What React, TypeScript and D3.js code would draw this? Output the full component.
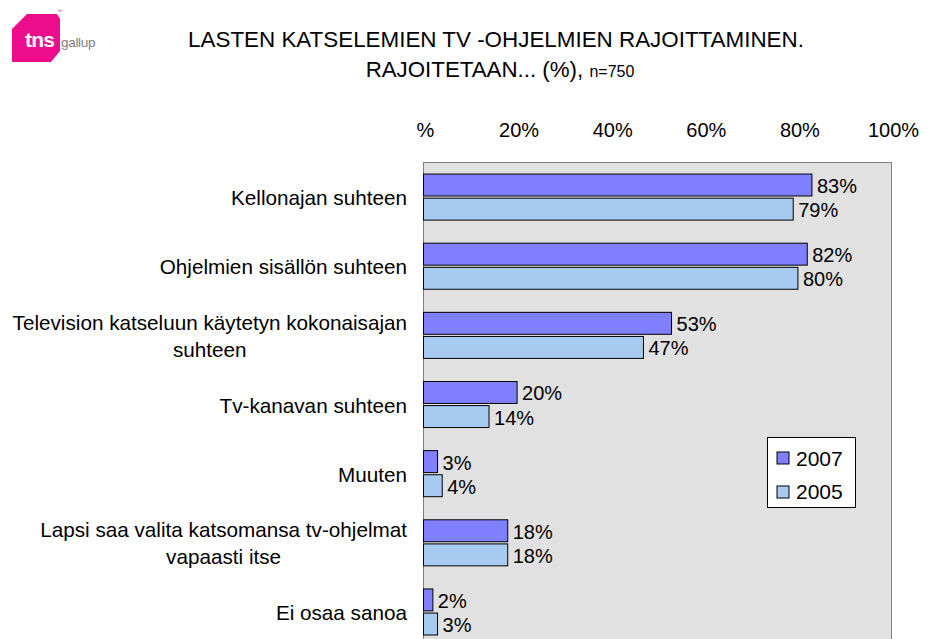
import React from 'react';
import { scaleLinear, scaleBand } from 'd3';

const categories: string[][] = [
  ['Kellonajan suhteen'],
  ['Ohjelmien sisällön suhteen'],
  ['Television katseluun käytetyn kokonaisajan', 'suhteen'],
  ['Tv-kanavan suhteen'],
  ['Muuten'],
  ['Lapsi saa valita katsomansa tv-ohjelmat', 'vapaasti itse'],
  ['Ei osaa sanoa'],
];
const series = ['2007', '2005'];
const values2007 = [83, 82, 53, 20, 3, 18, 2];
const values2005 = [79, 80, 47, 14, 4, 18, 3];
const ticks = [0, 20, 40, 60, 80, 100];
const tickLabels = ['%', '20%', '40%', '60%', '80%', '100%'];
const colors = ['#8080FF', '#A6CAF0'];

const font = 'Arial, "Liberation Sans", sans-serif';

// measure label width so wrapped labels can be centred under their first line
let ctx: CanvasRenderingContext2D | null = null;
function textWidth(s: string, size: number) {
  if (!ctx) ctx = document.createElement('canvas').getContext('2d');
  if (!ctx) return s.length * size * 0.5;
  ctx.font = `${size}px ${font}`;
  return ctx.measureText(s).width;
}

const App: React.FC = () => {
  const width = 928;
  const height = 639;
  const plot = { left: 423.5, right: 891.5, top: 162.5, step: 69.15 };
  const plotBottom = plot.top + plot.step * categories.length;
  const labelRight = 407;
  const labelSize = 20.7;

  const x = scaleLinear().domain([0, 100]).range([plot.left, plot.right]);
  const y0 = scaleBand<number>()
    .domain(categories.map((_, i) => i))
    .range([plot.top, plotBottom])
    .paddingInner(0.334)
    .paddingOuter(0.167);
  const y1 = scaleBand<string>().domain(series).range([0, y0.bandwidth()]).paddingInner(0.09);

  const data = [values2007, values2005];

  return (
    <svg width={width} height={height} style={{ position: 'absolute', left: 0, top: 0, fontFamily: font }}>
      <rect width={width} height={height} fill="#fff" />

      {/* logo */}
      <g>
        <path d="M27,14 L57,14 L60,19 L60,51 L51,62 L12,62 L12,29 Z" fill="#EC0C8C" />
        <text x={25} y={47} fontSize={21} fontWeight="bold" fill="#fff" letterSpacing={-0.8}>tns</text>
        <text x={61} y={47} fontSize={13.5} fill="#808080" letterSpacing={-0.3}>gallup</text>
        <text x={57} y={13} fontSize={5} fill="#EC0C8C">™</text>
      </g>

      {/* title */}
      <g textAnchor="middle" fill="#000">
        <text x={496} y={47} fontSize={22.4}>LASTEN KATSELEMIEN TV -OHJELMIEN RAJOITTAMINEN.</text>
        <text x={500} y={77} fontSize={22.3}>
          RAJOITETAAN... (%), <tspan fontSize={16}>n=750</tspan>
        </text>
      </g>

      {/* x ticks */}
      {ticks.map((t, i) => (
        <text key={t} x={x(t) + 2} y={137} fontSize={20} textAnchor="middle" fill="#000">{tickLabels[i]}</text>
      ))}

      {/* plot */}
      <rect x={plot.left} y={plot.top} width={plot.right - plot.left} height={plotBottom - plot.top}
        fill="#E1E1E1" stroke="#808080" strokeWidth={1} />

      {categories.map((lines, i) => {
        const cy = (y0(i) ?? 0) + y0.bandwidth() / 2;
        const lh = 27;
        const startY = cy - ((lines.length - 1) * lh) / 2;
        const w = textWidth(lines[0], labelSize);
        const cx = labelRight - w / 2;
        return (
          <g key={i}>
            <text fontSize={labelSize} fill="#000" textAnchor="middle" dominantBaseline="central">
              {lines.map((l, j) => (
                <tspan key={j} x={cx} y={startY + j * lh}>{l}</tspan>
              ))}
            </text>
            {series.map((s, k) => {
              const v = data[k][i];
              const by = (y0(i) ?? 0) + (y1(s) ?? 0);
              return (
                <g key={s}>
                  <rect x={x(0)} y={by} width={x(v) - x(0)} height={y1.bandwidth()}
                    fill={colors[k]} stroke="#000" strokeWidth={1} />
                  <text x={x(v) + 5} y={by + y1.bandwidth() / 2 + 1} fontSize={20} dominantBaseline="central" fill="#000">{v}%</text>
                </g>
              );
            })}
          </g>
        );
      })}

      {/* legend */}
      <g>
        <rect x={767.5} y={437.5} width={88} height={70} fill="#fff" stroke="#000" strokeWidth={1} />
        {series.map((s, k) => (
          <g key={s}>
            <rect x={777} y={452 + k * 34} width={12} height={12} fill={colors[k]} stroke="#000" strokeWidth={1} />
            <text x={796} y={466 + k * 33} fontSize={21} fill="#000">{s}</text>
          </g>
        ))}
      </g>
    </svg>
  );
};

export default App;
